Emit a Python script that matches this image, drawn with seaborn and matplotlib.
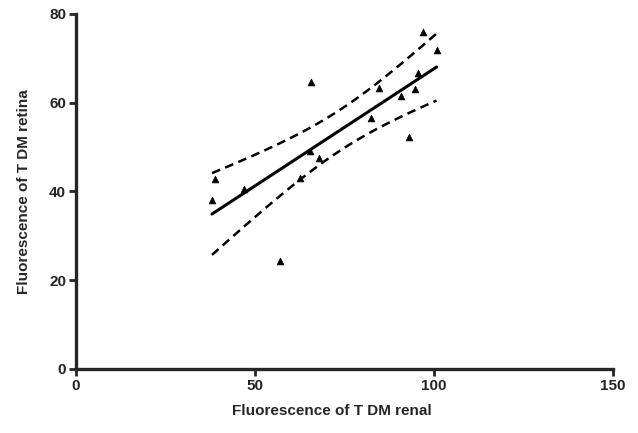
import numpy as np
import pandas as pd
import matplotlib
matplotlib.use("Agg")
import matplotlib.pyplot as plt
import seaborn as sns

renal = [38.0, 38.8, 46.9, 57.0, 62.6, 65.6, 65.4, 68.0, 82.4, 84.6, 90.9, 93.1, 94.7, 95.6, 96.8, 100.7]
retina = [38.1, 42.7, 40.5, 24.4, 43.0, 64.7, 49.0, 47.5, 56.6, 63.4, 61.6, 52.2, 63.0, 66.6, 75.9, 71.9]
xticks = [0, 50, 100, 150]
yticks = [0, 20, 40, 60, 80]

df = pd.DataFrame({"renal": renal, "retina": retina})

# linear fit with 95% confidence band of the mean
x = np.array(renal)
y = np.array(retina)
n = len(x)
b, a = np.polyfit(x, y, 1)
resid = y - (a + b * x)
s = np.sqrt(np.sum(resid ** 2) / (n - 2))
t = 2.145
xs = np.linspace(x.min(), x.max(), 100)
ys = a + b * xs
se = s * np.sqrt(1 / n + (xs - x.mean()) ** 2 / np.sum((x - x.mean()) ** 2))
fit = pd.DataFrame({"x": xs, "fit": ys, "lo": ys - t * se, "hi": ys + t * se})

sns.set_style("ticks")
plt.rcParams["font.family"] = ["Liberation Sans", "DejaVu Sans"]
plt.rcParams["font.weight"] = "bold"

fig = plt.figure(figsize=(6.38, 4.33), dpi=100)
ax = fig.add_axes([0.119, 0.148, 0.842, 0.82])

sns.lineplot(data=fit, x="x", y="fit", ax=ax, color="black", lw=2.2)
sns.lineplot(data=fit, x="x", y="lo", ax=ax, color="black", lw=1.8, linestyle=(0, (3.5, 2.2)))
sns.lineplot(data=fit, x="x", y="hi", ax=ax, color="black", lw=1.8, linestyle=(0, (3.5, 2.2)))
sns.scatterplot(data=df, x="renal", y="retina", ax=ax, marker="^", color="black", s=24, edgecolor="black", linewidth=0.5, zorder=5)

ax.set_xlim(0, 150)
ax.set_ylim(0, 80)
ax.set_xticks(xticks)
ax.set_yticks(yticks)
for side in ["top", "right"]:
    ax.spines[side].set_visible(False)
for side in ["left", "bottom"]:
    ax.spines[side].set_linewidth(2.4)
ax.tick_params(axis="both", width=2.0, length=5, labelsize=11, pad=2)
for lab in ax.get_xticklabels() + ax.get_yticklabels():
    lab.set_fontweight("bold")
ax.set_xlabel("Fluorescence of T DM renal", fontsize=11, fontweight="bold", labelpad=9)
ax.set_ylabel("Fluorescence of T DM retina", fontsize=11, fontweight="bold", labelpad=13)
ax.xaxis.set_label_coords(0.476, -0.10)

fig.savefig("out.png", dpi=100)
